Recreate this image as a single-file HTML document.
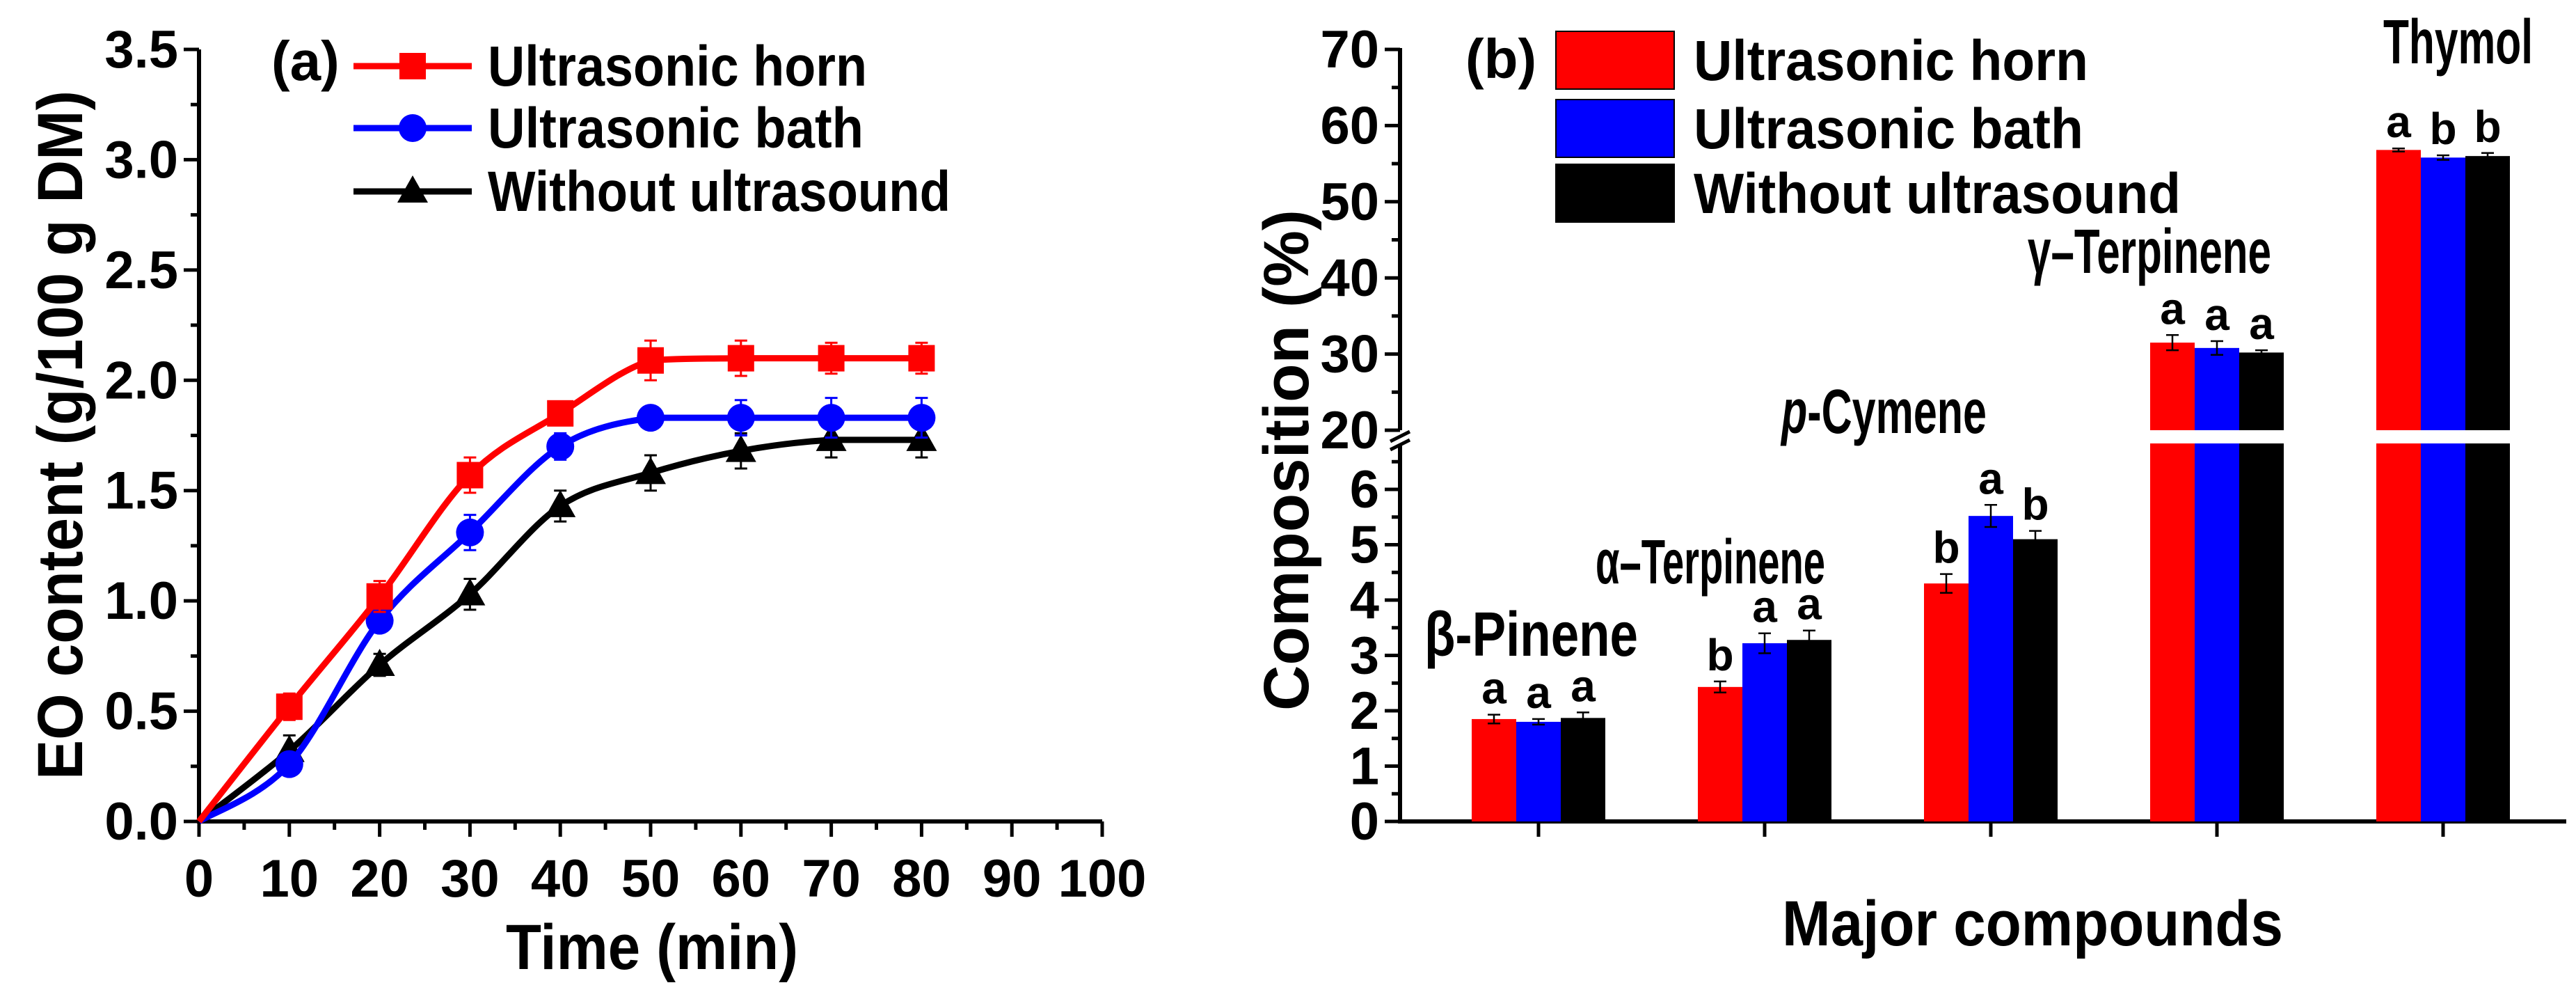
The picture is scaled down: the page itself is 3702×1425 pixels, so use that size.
<!DOCTYPE html>
<html><head><meta charset="utf-8"><style>
html,body{margin:0;padding:0;background:#fff}
svg{display:block}
text{font-family:"Liberation Sans Narrow","Liberation Sans",sans-serif;font-weight:bold;fill:#000}
</style></head><body>
<svg id="c" width="3702" height="1425" viewBox="0 0 3702 1425" xmlns="http://www.w3.org/2000/svg"></svg>
<script>
// ---- Panel (a) data ----
const timeVals=[0,10,20,30,40,50,60,70,80];
const hornVals=[0,0.52,1.02,1.57,1.85,2.09,2.10,2.10,2.10];
const bathVals=[0,0.26,0.91,1.31,1.70,1.83,1.83,1.83,1.83];
const noneVals=[0,0.32,0.71,1.03,1.43,1.58,1.68,1.73,1.73];
const hornErr=[0,0.06,0.07,0.08,0.05,0.09,0.08,0.07,0.07];
const bathErr=[0,0.05,0.05,0.08,0.06,0.04,0.08,0.09,0.09];
const noneErr=[0,0.07,0.05,0.07,0.07,0.08,0.08,0.08,0.08];
const yTicksA=["0.0","0.5","1.0","1.5","2.0","2.5","3.0","3.5"];
const xTicksA=["0","10","20","30","40","50","60","70","80","90","100"];
// ---- Panel (b) data ----
const compounds=["β-Pinene","α–Terpinene","p-Cymene","γ–Terpinene","Thymol"];
const hornB=[1.85,2.43,4.30,31.5,56.8];
const bathB=[1.80,3.22,5.52,30.8,55.8];
const noneB=[1.87,3.28,5.10,30.2,56.0];
const hornBErr=[0.08,0.1,0.17,1.0,0.2];
const bathBErr=[0.05,0.18,0.2,0.9,0.3];
const noneBErr=[0.1,0.17,0.15,0.3,0.4];
const hornLet=["a","b","b","a","a"];
const bathLet=["a","a","a","a","b"];
const noneLet=["a","a","b","a","b"];
const yLowTicks=["0","1","2","3","4","5","6"];
const yHighTicks=["20","30","40","50","60","70"];

const svg=document.getElementById('c');
const NS='http://www.w3.org/2000/svg';
function mk(tag,attrs,parent,txt){const e=document.createElementNS(NS,tag);for(const k in attrs)e.setAttribute(k,attrs[k]);if(txt!==undefined)e.textContent=txt;(parent||svg).appendChild(e);return e;}

// ===== Panel A =====
const gA=mk('g',{});


const AX0=286,AX1=1584,AY0=1180,AY1=71;
const ax=v=>AX0+(v/100)*(AX1-AX0);
const ay=v=>AY0-(v/3.5)*(AY0-AY1);
mk('line',{x1:AX0,y1:AY0,x2:AX1,y2:AY0,stroke:'#000','stroke-width':6},gA);
mk('line',{x1:AX0,y1:AY0+3,x2:AX0,y2:AY1,stroke:'#000','stroke-width':6},gA);
for(let i=0;i<=14;i++){const v=i*0.25,y=ay(v);mk('line',{x1:AX0,y1:y,x2:AX0-(i%2?12:22),y2:y,stroke:'#000','stroke-width':5},gA);}
yTicksA.forEach((t,i)=>{const e=mk('text',{x:AX0-30,y:ay(i*0.5)+26,'font-size':76,'text-anchor':'end'},gA,t);});
for(let i=0;i<=20;i++){const x=ax(i*5);mk('line',{x1:x,y1:AY0,x2:x,y2:AY0+(i%2?12:22),stroke:'#000','stroke-width':5},gA);}
xTicksA.forEach((t,i)=>{const e=mk('text',{x:ax(i*10),y:1288,'font-size':76,'text-anchor':'middle'},gA,t);});
let t=mk('text',{x:937,y:1392,'font-size':92,'text-anchor':'middle',textLength:420,lengthAdjust:'spacingAndGlyphs'},gA,'Time (min)');

t=mk('text',{x:0,y:0,'font-size':92,'text-anchor':'middle',transform:'translate(118,625) rotate(-90)',textLength:990,lengthAdjust:'spacingAndGlyphs'},gA,'EO content (g/100 g DM)');


function curvePath(xs,ys){let pts=xs.map((x,i)=>[ax(x),ay(ys[i])]);let d='M'+pts[0][0]+','+pts[0][1];
 for(let i=0;i<pts.length-1;i++){const p0=pts[Math.max(0,i-1)],p1=pts[i],p2=pts[i+1],p3=pts[Math.min(pts.length-1,i+2)];
  let c1=[p1[0]+(p2[0]-p0[0])/6,p1[1]+(p2[1]-p0[1])/6],c2=[p2[0]-(p3[0]-p1[0])/6,p2[1]-(p3[1]-p1[1])/6];
  const lo=Math.min(p1[1],p2[1]),hi=Math.max(p1[1],p2[1]);
  c1[1]=Math.max(lo,Math.min(hi,c1[1]));c2[1]=Math.max(lo,Math.min(hi,c2[1]));
  d+=` C${c1[0]},${c1[1]} ${c2[0]},${c2[1]} ${p2[0]},${p2[1]}`;}return d;}
function marker(kind,x,y,col,g){
 if(kind==='sq')return mk('rect',{x:x-19,y:y-19,width:38,height:38,fill:col},g);
 if(kind==='ci')return mk('circle',{cx:x,cy:y,r:20,fill:col},g);
 return mk('polygon',{points:`${x},${y-23} ${x+22},${y+16} ${x-22},${y+16}`,fill:col},g);}
const seriesA=[[hornVals,hornErr,'#ff0000','sq','series-horn'],[bathVals,bathErr,'#0000ff','ci','series-bath'],[noneVals,noneErr,'#000000','tr','series-without']];
seriesA.slice().reverse().forEach(([vals,errs,col,kind,name])=>{
 const g=mk('g',{},gA);
 mk('path',{d:curvePath(timeVals,vals),fill:'none',stroke:col,'stroke-width':9},g);
 timeVals.forEach((tv,i)=>{if(i===0)return;const x=ax(tv),y1=ay(vals[i]+errs[i]),y2=ay(vals[i]-errs[i]);
  mk('path',{d:`M${x},${y1}V${y2}M${x-9},${y1}H${x+9}M${x-9},${y2}H${x+9}`,stroke:col,'stroke-width':3,fill:'none'},g);
  const m=marker(kind,x,ay(vals[i]),col,g);});
});
// legend A
t=mk('text',{x:390,y:115,'font-size':80},gA,'(a)');
const legA=[['Ultrasonic horn','#ff0000','sq',95,545],['Ultrasonic bath','#0000ff','ci',184,540],['Without ultrasound','#000000','tr',275,665]];
legA.forEach(([lab,col,kind,y,w])=>{const g=mk('g',{},gA);
 mk('line',{x1:508,y1:y,x2:678,y2:y,stroke:col,'stroke-width':9},g);marker(kind,593,y,col,g);
 mk('text',{x:701,y:y+28,'font-size':82,textLength:w,lengthAdjust:'spacingAndGlyphs'},g,lab);});

// ===== Panel B =====
const gB=mk('g',{});


const BX0=2012,BX1=3688,BY0=1180;
const lowY=v=>BY0-v*79.5;
const highY=v=>618-(v-20)*10.94;
const by=v=>v<=10?lowY(v):highY(v);
const groupX=i=>2211+i*325;
const BW=64;
mk('line',{x1:BX0,y1:BY0,x2:BX1,y2:BY0,stroke:'#000','stroke-width':6},gB);
mk('line',{x1:BX0,y1:BY0+3,x2:BX0,y2:638,stroke:'#000','stroke-width':6},gB);
mk('line',{x1:BX0,y1:618,x2:BX0,y2:69,stroke:'#000','stroke-width':6},gB);
mk('path',{d:`M${BX0-14},${634}L${BX0+14},${620}M${BX0-14},${646}L${BX0+14},${632}`,stroke:'#000','stroke-width':5},gB);
for(let i=0;i<=13;i++){const y=lowY(i*0.5);mk('line',{x1:BX0,y1:y,x2:BX0-(i%2?12:22),y2:y,stroke:'#000','stroke-width':5},gB);}
for(let i=0;i<=10;i++){const y=highY(20+i*5);mk('line',{x1:BX0,y1:y,x2:BX0-(i%2?12:22),y2:y,stroke:'#000','stroke-width':5},gB);}
yLowTicks.forEach((s,i)=>{const e=mk('text',{x:BX0-30,y:lowY(i)+26,'font-size':76,'text-anchor':'end'},gB,s);});
yHighTicks.forEach((s,i)=>{const e=mk('text',{x:BX0-30,y:highY(20+i*10)+26,'font-size':76,'text-anchor':'end'},gB,s);});
compounds.forEach((c,i)=>mk('line',{x1:groupX(i),y1:BY0,x2:groupX(i),y2:BY0+22,stroke:'#000','stroke-width':5},gB));
t=mk('text',{x:2921,y:1358,'font-size':92,'text-anchor':'middle',textLength:720,lengthAdjust:'spacingAndGlyphs'},gB,'Major compounds');

t=mk('text',{x:0,y:0,'font-size':92,'text-anchor':'middle',transform:'translate(1880,661) rotate(-90)',textLength:720,lengthAdjust:'spacingAndGlyphs'},gB,'Composition (%)');

const seriesB=[[hornB,hornBErr,hornLet,'#ff0000',-1,'bars-horn'],[bathB,bathBErr,bathLet,'#0000ff',0,'bars-bath'],[noneB,noneBErr,noneLet,'#000000',1,'bars-without']];
seriesB.forEach(([vals,errs,lets,col,off,name])=>{const g=mk('g',{},gB);
 vals.forEach((v,i)=>{const cx=groupX(i)+off*BW,top=by(v);
  const r=mk('rect',{x:cx-BW/2,y:top,width:BW,height:BY0-top,fill:col},g);
  if(v>10)mk('rect',{x:cx-BW/2-1,y:618,width:BW+2,height:19,fill:'#fff'},g);
  const y1=by(v+errs[i]),y2=by(v-errs[i]);
  mk('path',{d:`M${cx},${y1}V${y2}M${cx-9},${y1}H${cx+9}M${cx-9},${y2}H${cx+9}`,stroke:'#000','stroke-width':2.5,fill:'none'},g);
  const e=mk('text',{x:cx,y:y1-16,'font-size':64,'text-anchor':'middle'},g,lets[i]);});
});
const labPos=[[2047,942],[2293,838],[2560,622],[2914,392],[3425,91]];
const labW=[307,330,295,350,215];
compounds.forEach((c,i)=>{let e;
 if(i===2){e=mk('text',{x:labPos[i][0],y:labPos[i][1],'font-size':90,textLength:labW[i],lengthAdjust:'spacingAndGlyphs'},gB);
  mk('tspan',{'font-style':'italic'},e,'p');mk('tspan',{},e,'-Cymene');}
 else e=mk('text',{x:labPos[i][0],y:labPos[i][1],'font-size':90,textLength:labW[i],lengthAdjust:'spacingAndGlyphs'},gB,c);
 });
// legend B
t=mk('text',{x:2106,y:112,'font-size':80},gB,'(b)');
const legB=[['Ultrasonic horn','#ff0000',45,567],['Ultrasonic bath','#0000ff',143,560],['Without ultrasound','#000000',236,700]];
legB.forEach(([lab,col,y,w])=>{const g=mk('g',{},gB);
 mk('rect',{x:2236,y:y,width:170,height:83,fill:col,stroke:'#000','stroke-width':2},g);
 mk('text',{x:2434,y:y+70,'font-size':82,textLength:w,lengthAdjust:'spacingAndGlyphs'},g,lab);});
</script>
</body></html>
